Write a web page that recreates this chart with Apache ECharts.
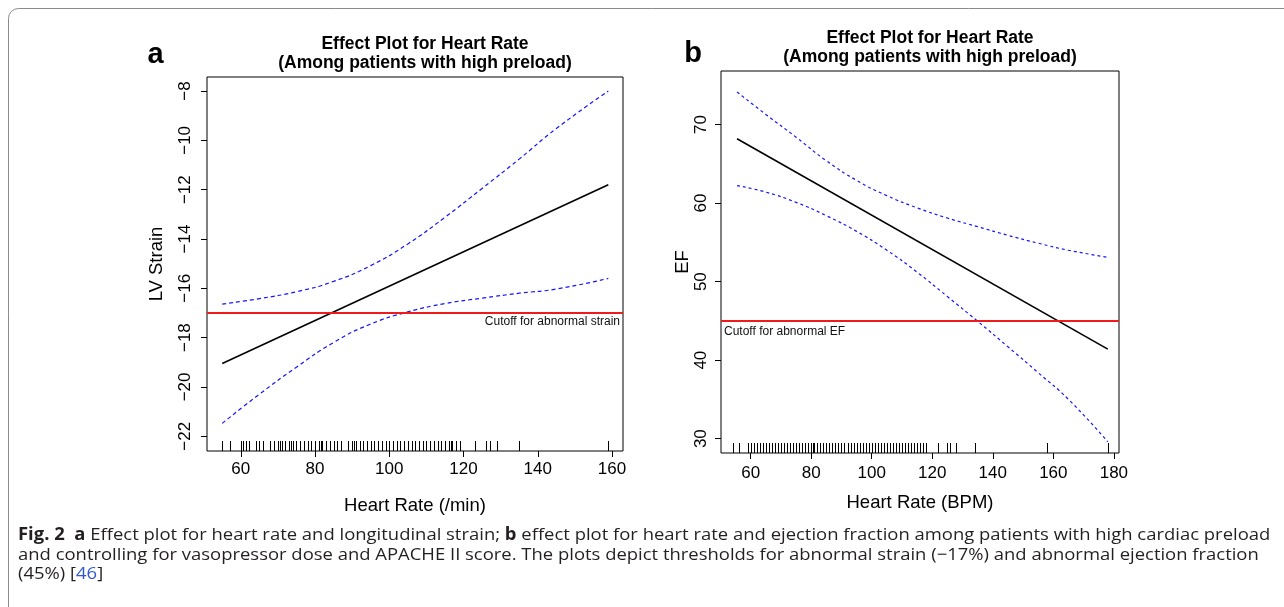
<!DOCTYPE html>
<html>
<head>
<meta charset="utf-8">
<script src="https://cdn.jsdelivr.net/npm/echarts@6/dist/echarts.min.js"></script>
<style>
html,body{margin:0;padding:0;background:#fff;}
#c{width:1284px;height:607px;}
</style>
</head>
<body>
<div id="c"></div>
<script>
// ---------- Panel a data (LV strain) ----------
const xTicksA = [60, 80, 100, 120, 140, 160];
const yTicksA = [-22, -20, -18, -16, -14, -12, -10, -8];
const fitA = [[55, -19.05], [159, -11.8]];
const ciXA = [55, 65, 75, 85, 95, 105, 115, 125, 135, 145, 159];
const upperA = [-16.64, -16.42, -16.14, -15.72, -15.08, -14.2, -13.12, -11.95, -10.76, -9.52, -8.0];
const lowerA = [-21.48, -20.3, -19.2, -18.2, -17.45, -16.96, -16.62, -16.4, -16.2, -16.03, -15.6];
const cutoffA = -17;
const rugA = [55, 57, 60, 60.7, 61.4, 62.2, 64, 64.8, 66, 68, 69, 70, 70.5, 71, 72, 73, 73.5, 74, 75, 76, 77, 78, 79, 80,
  81, 81.5, 82, 83, 84, 85, 86, 87, 89, 90, 90.5, 91, 92, 93, 94, 95, 96, 97, 98, 99, 100, 101, 102, 103, 104, 105,
  106, 107, 108, 109, 110, 111, 112, 113, 114, 115, 116, 116.5, 117, 118, 119, 123, 126, 127, 129, 135, 159];

// ---------- Panel b data (EF) ----------
const xTicksB = [60, 80, 100, 120, 140, 160, 180];
const yTicksB = [30, 40, 50, 60, 70];
const fitB = [[55.5, 68.2], [178, 41.4]];
const ciXB = [55.5, 65, 75, 85, 95, 105, 115, 125, 135, 145, 155, 165, 178];
const upperB = [74.16, 71.3, 68.4, 65.4, 62.9, 60.95, 59.4, 58.1, 57.0, 55.9, 54.9, 54.0, 53.1];
const lowerB = [62.24, 61.4, 60.1, 58.4, 56.4, 54.0, 51.2, 48.1, 44.95, 41.7, 38.4, 35.0, 29.6];
const cutoffB = 45;
const rugB = [54, 56, 59, 60, 61, 62, 63, 64, 65, 66, 67, 68, 69, 70, 71, 72, 73, 74, 75, 76, 77, 78, 79, 80, 80.5,
  81, 82, 83, 84, 85, 86, 87, 88, 89, 90, 91, 92, 93, 94, 95, 96, 97, 98, 99, 100, 101, 102, 103, 104, 105, 106,
  107, 108, 109, 110, 111, 112, 113, 114, 115, 116, 117, 118, 122, 125, 126, 128, 134, 158, 178];

const FONT = '"Liberation Sans", Arial, Helvetica, sans-serif';
const CAP = '"Open Sans", sans-serif';
const minus = v => String(v).replace('-', '\u2212');
const zip = (xs, ys) => xs.map((x, i) => [x, ys[i]]);

function xAxisCfg(grid, min, max, ticks, name, margin, gap) {
  return {
    type: 'value', gridIndex: grid, min: min, max: max,
    name: name, nameLocation: 'middle', nameGap: gap,
    nameTextStyle: {fontFamily: FONT, fontSize: 18.5, color: '#000'},
    axisLine: {show: false},
    splitLine: {show: false},
    axisTick: {show: true, inside: false, length: 6, lineStyle: {color: '#000', width: 1}, customValues: ticks},
    axisLabel: {show: true, margin: margin, fontFamily: FONT, fontSize: 17, color: '#000', customValues: ticks, formatter: minus}
  };
}
function yAxisCfg(grid, min, max, ticks, name, margin, gap) {
  return {
    type: 'value', gridIndex: grid, min: min, max: max,
    name: name, nameLocation: 'middle', nameGap: gap, nameRotate: 90,
    nameTextStyle: {fontFamily: FONT, fontSize: 18.5, color: '#000'},
    axisLine: {show: false},
    splitLine: {show: false},
    axisTick: {show: true, inside: false, length: 6, lineStyle: {color: '#000', width: 1}, customValues: ticks},
    axisLabel: {show: true, rotate: 90, margin: margin, fontFamily: FONT, fontSize: 17, color: '#000', customValues: ticks, formatter: minus}
  };
}
function rugSeries(idx, data) {
  return {
    type: 'custom', xAxisIndex: idx, yAxisIndex: idx, silent: true, clip: false,
    data: data.map(v => [v]),
    encode: {x: 0},
    renderItem: function (params, api) {
      const cs = params.coordSys;
      const p = api.coord([api.value(0), 0]);
      const px = Math.round(p[0]) + 0.5;
      const bottom = cs.y + cs.height;
      return {type: 'line', shape: {x1: px, y1: bottom, x2: px, y2: bottom - 10},
        style: {stroke: '#000', lineWidth: 1}};
    }
  };
}
function lineSeries(idx, data, color, width, type, smooth) {
  return {type: 'line', xAxisIndex: idx, yAxisIndex: idx, data: data, showSymbol: false, symbol: 'none',
    smooth: smooth, silent: true, lineStyle: {color: color, width: width, type: type}};
}
function cutoffSeries(idx, y, text, pos, dist) {
  return {type: 'line', xAxisIndex: idx, yAxisIndex: idx, data: [], silent: true,
    markLine: {silent: true, symbol: 'none', animation: false,
      lineStyle: {color: '#f01a1a', width: 2, type: 'solid'},
      label: {show: true, position: pos, formatter: text, fontFamily: FONT, fontSize: 12, color: '#111', distance: dist},
      data: [{yAxis: y}]}};
}

const chart = echarts.init(document.getElementById('c'), null, {renderer: 'canvas'});
chart.setOption({
  animation: false,
  backgroundColor: '#fff',
  grid: [
    {left: 207, top: 77, width: 416, height: 374, show: true, borderColor: '#000', borderWidth: 1, backgroundColor: 'transparent', outerBoundsMode: 'none'},
    {left: 721, top: 71, width: 398, height: 382, show: true, borderColor: '#000', borderWidth: 1, backgroundColor: 'transparent', outerBoundsMode: 'none'}
  ],
  xAxis: [
    xAxisCfg(0, 50.9, 162.96, xTicksA, 'Heart Rate (/min)', 10, 45),
    xAxisCfg(1, 50.2, 181.7, xTicksB, 'Heart Rate (BPM)', 12, 40)
  ],
  yAxis: [
    yAxisCfg(0, -22.6, -7.43, yTicksA, 'LV Strain', 13, 41),
    yAxisCfg(1, 28.17, 76.83, yTicksB, 'EF', 11, 9)
  ],
  series: [
    cutoffSeries(0, cutoffA, 'Cutoff for abnormal strain', 'insideEndBottom', [3, 3]),
    lineSeries(0, zip(ciXA, upperA), '#1515ff', 1.2, [4, 3], true),
    lineSeries(0, zip(ciXA, lowerA), '#1515ff', 1.2, [4, 3], true),
    lineSeries(0, fitA, '#000', 1.6, 'solid', false),
    rugSeries(0, rugA),
    cutoffSeries(1, cutoffB, 'Cutoff for abnormal EF', 'insideStartBottom', [3, 5]),
    lineSeries(1, zip(ciXB, upperB), '#1515ff', 1.2, [3, 3], true),
    lineSeries(1, zip(ciXB, lowerB), '#1515ff', 1.2, [3, 3], true),
    lineSeries(1, fitB, '#000', 1.6, 'solid', false),
    rugSeries(1, rugB)
  ],
  graphic: [
    {type: 'rect', shape: {x: 8.5, y: 8.5, width: 1300, height: 640, r: 10}, style: {fill: 'none', stroke: '#8a8a8a', lineWidth: 1}, silent: true, z: 0},
    {type: 'text', x: 425, y: 53.5, style: {text: 'Effect Plot for Heart Rate\n(Among patients with high preload)', font: 'bold 17.5px ' + FONT, fill: '#000', textAlign: 'center', textVerticalAlign: 'middle', lineHeight: 19}},
    {type: 'text', x: 930, y: 47.5, style: {text: 'Effect Plot for Heart Rate\n(Among patients with high preload)', font: 'bold 17.5px ' + FONT, fill: '#000', textAlign: 'center', textVerticalAlign: 'middle', lineHeight: 19.5}},
    {type: 'text', x: 155.5, y: 55, style: {text: 'a', font: 'bold 29px ' + FONT, fill: '#000', textAlign: 'center', textVerticalAlign: 'middle'}},
    {type: 'text', x: 693, y: 54, style: {text: 'b', font: 'bold 29px ' + FONT, fill: '#000', textAlign: 'center', textVerticalAlign: 'middle'}},
    {type: 'text', x: 18, y: 535, scaleX: 1.085, style: {
      text: '{b|Fig. 2}  {b|a} Effect plot for heart rate and longitudinal strain; {b|b} effect plot for heart rate and ejection fraction among patients with high cardiac preload',
      font: '17px ' + CAP, fill: '#231f20', textVerticalAlign: 'middle',
      rich: {b: {font: 'bold 17px ' + CAP, fill: '#231f20'}}}},
    {type: 'text', x: 18, y: 555, scaleX: 1.085, style: {
      text: 'and controlling for vasopressor dose and APACHE II score. The plots depict thresholds for abnormal strain (\u221217%) and abnormal ejection fraction',
      font: '17px ' + CAP, fill: '#231f20', textVerticalAlign: 'middle'}},
    {type: 'text', x: 18, y: 574.5, scaleX: 1.085, style: {
      text: '(45%) [{l|46}]',
      font: '17px ' + CAP, fill: '#231f20', textVerticalAlign: 'middle',
      rich: {l: {font: '17px ' + CAP, fill: '#2f56d6'}}}}
  ]
});
</script>
</body>
</html>
